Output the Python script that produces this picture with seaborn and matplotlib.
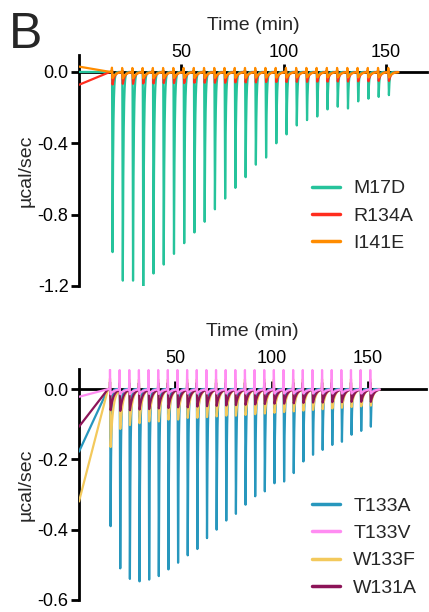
import numpy as np
import pandas as pd
import matplotlib
matplotlib.use("Agg")
import matplotlib.pyplot as plt
from matplotlib.lines import Line2D
import seaborn as sns

# Injection times (min), shared by both titrations
inj_time = [16, 21, 26, 31, 36, 41, 46, 51, 56, 61, 66, 71, 76, 81,
            86, 91, 96, 101, 106, 111, 116, 121, 126, 131, 136, 141, 146, 151]

# ---- upper panel: peak minima (µcal/sec) per injection ----
m17d_peak = [-1.01, -1.17, -1.17, -1.20, -1.13, -1.08, -1.02, -0.96, -0.90, -0.84,
             -0.77, -0.71, -0.65, -0.59, -0.52, -0.48, -0.40, -0.35, -0.30, -0.27,
             -0.25, -0.21, -0.195, -0.205, -0.165, -0.15, -0.14, -0.13]
r134a_peak = [-0.07, -0.066, -0.066, -0.064, -0.064, -0.062, -0.062, -0.062, -0.06, -0.06,
              -0.06, -0.06, -0.058, -0.058, -0.058, -0.056, -0.056, -0.056, -0.055, -0.055,
              -0.054, -0.054, -0.053, -0.053, -0.052, -0.052, -0.05, -0.05]
i141e_peak = [-0.035, -0.035, -0.035, -0.034, -0.034, -0.034, -0.033, -0.033, -0.033, -0.033,
              -0.032, -0.032, -0.032, -0.032, -0.031, -0.031, -0.031, -0.031, -0.03, -0.03,
              -0.03, -0.03, -0.03, -0.03, -0.03, -0.03, -0.03, -0.03]

# ---- lower panel: peak minima (µcal/sec) per injection ----
t133a_peak = [-0.39, -0.51, -0.54, -0.547, -0.542, -0.532, -0.513, -0.494, -0.473, -0.455,
              -0.424, -0.40, -0.374, -0.355, -0.329, -0.305, -0.291, -0.268, -0.263, -0.239,
              -0.206, -0.187, -0.173, -0.159, -0.15, -0.13, -0.119, -0.107]
t133v_peak = [-0.015, -0.014, -0.014, -0.013, -0.013, -0.013, -0.012, -0.012, -0.012, -0.012,
              -0.012, -0.012, -0.012, -0.012, -0.012, -0.012, -0.012, -0.012, -0.012, -0.012,
              -0.012, -0.012, -0.012, -0.012, -0.012, -0.012, -0.012, -0.012]
w133f_peak = [-0.165, -0.11, -0.10, -0.095, -0.09, -0.09, -0.085, -0.085, -0.08, -0.08,
              -0.078, -0.076, -0.074, -0.074, -0.072, -0.07, -0.068, -0.066, -0.064, -0.062,
              -0.06, -0.058, -0.056, -0.054, -0.052, -0.05, -0.048, -0.046]
w131a_peak = [-0.06, -0.06, -0.058, -0.056, -0.055, -0.053, -0.052, -0.05, -0.05, -0.048,
              -0.047, -0.046, -0.045, -0.044, -0.043, -0.042, -0.041, -0.04, -0.04, -0.039,
              -0.038, -0.037, -0.037, -0.036, -0.036, -0.035, -0.035, -0.035]

# Upward blip height at each injection (µcal/sec)
tip = {"M17D": 0.01, "R134A": 0.012, "I141E": 0.024,
       "T133A": 0.0, "T133V": 0.055, "W133F": 0.03, "W131A": 0.02}
# Signal at t = 0 before the baseline settles (µcal/sec)
start = {"M17D": 0.0, "R134A": -0.072, "I141E": 0.03,
         "T133A": -0.178, "T133V": -0.022, "W133F": -0.32, "W131A": -0.107}

top_names = ["M17D", "R134A", "I141E"]
bottom_names = ["T133A", "T133V", "W133F", "W131A"]
peaks = {"M17D": m17d_peak, "R134A": r134a_peak, "I141E": i141e_peak,
         "T133A": t133a_peak, "T133V": t133v_peak, "W133F": w133f_peak,
         "W131A": w131a_peak}

colors = {"M17D": "#26C39B", "R134A": "#FF2D1E", "I141E": "#FF8C00",
          "T133A": "#2797BD", "T133V": "#FF8CF2", "W133F": "#F3C95C",
          "W131A": "#8C1458"}
recovery = {"M17D": 0.35, "R134A": 1.0, "I141E": 1.5,
            "T133A": 0.35, "T133V": 1.8, "W133F": 1.3, "W131A": 1.5}

T_END = 156.0
SETTLE = 15.0


def thermogram(name):
    t = np.arange(0.0, T_END, 0.02)
    y = np.where(t < SETTLE, start[name] * (1 - t / SETTLE), 0.0)
    tau = recovery[name]
    for t0, d in zip(inj_time, peaks[name]):
        y += tip[name] * np.clip(1 - np.abs(t - t0 - 0.08) / 0.12, 0, None)
        s = t - (t0 + 0.15)
        rise = 0.25
        y += np.where((s >= 0) & (s < rise), d * s / rise, 0.0)
        y += np.where(s >= rise, d * np.exp(-(s - rise) / tau), 0.0)
    return pd.DataFrame({"time": t, "power": y, "variant": name})


sns.set_theme(style="ticks")
plt.rcParams["font.family"] = ["Liberation Sans", "DejaVu Sans"]

fig = plt.figure(figsize=(4.29, 6.12), dpi=100)
W, H = 429, 612
ax1 = fig.add_axes([79 / W, 1 - 286 / H, (427 - 79) / W, (286 - 55) / H])
ax2 = fig.add_axes([79 / W, 1 - 600 / H, (426 - 79) / W, (600 - 369) / H])


def draw(ax, names, order, xmax, ylim, yticks, xpad, legend_y):
    df = pd.concat([thermogram(n) for n in order], ignore_index=True)
    sns.lineplot(data=df, x="time", y="power", hue="variant", hue_order=order,
                 palette=colors, estimator=None, sort=False, legend=False,
                 linewidth=1.6, ax=ax, zorder=3)
    ax.set_xlim(0, xmax)
    ax.set_ylim(*ylim)
    ax.set_xticks([50, 100, 150])
    ax.set_yticks(yticks)
    ax.set_yticklabels([f"{v:.1f}" for v in yticks])
    for side in ("bottom", "right"):
        ax.spines[side].set_visible(False)
    ax.spines["top"].set_position(("data", 0))
    for side in ("top", "left"):
        ax.spines[side].set_linewidth(2.0)
        ax.spines[side].set_color("black")
    ax.xaxis.set_ticks_position("top")
    ax.xaxis.set_label_position("top")
    ax.tick_params(axis="x", direction="out", length=6, width=2.0, pad=xpad,
                   labelsize=13, colors="black")
    ax.tick_params(axis="y", direction="out", length=5.5, width=2.0, pad=2,
                   labelsize=13, colors="black")
    ax.set_xlabel("Time (min)", fontsize=14, labelpad=10)
    ax.set_ylabel("µcal/sec", fontsize=14, labelpad=2)
    handles = [Line2D([], [], color=colors[n], lw=2.5) for n in names]
    ax.legend(handles, names, loc="center left",
              bbox_to_anchor=(294 / W, 1 - legend_y / H),
              bbox_transform=fig.transFigure,
              frameon=False, fontsize=14, handlelength=1.45, handletextpad=0.7,
              labelspacing=0.5)
    ax.set_facecolor("white")


draw(ax1, top_names, ["M17D", "R134A", "I141E"], 170, (-1.2, 0.095),
     [0.0, -0.4, -0.8, -1.2], 2, 216)
draw(ax2, bottom_names, ["T133A", "W133F", "W131A", "T133V"], 180, (-0.6, 0.057),
     [0.0, -0.2, -0.4, -0.6], 10, 547)

fig.text(9 / W, 1 - 12 / H, "B", fontsize=36, va="top", ha="left")

fig.savefig("out.png", dpi=100, facecolor="white")
